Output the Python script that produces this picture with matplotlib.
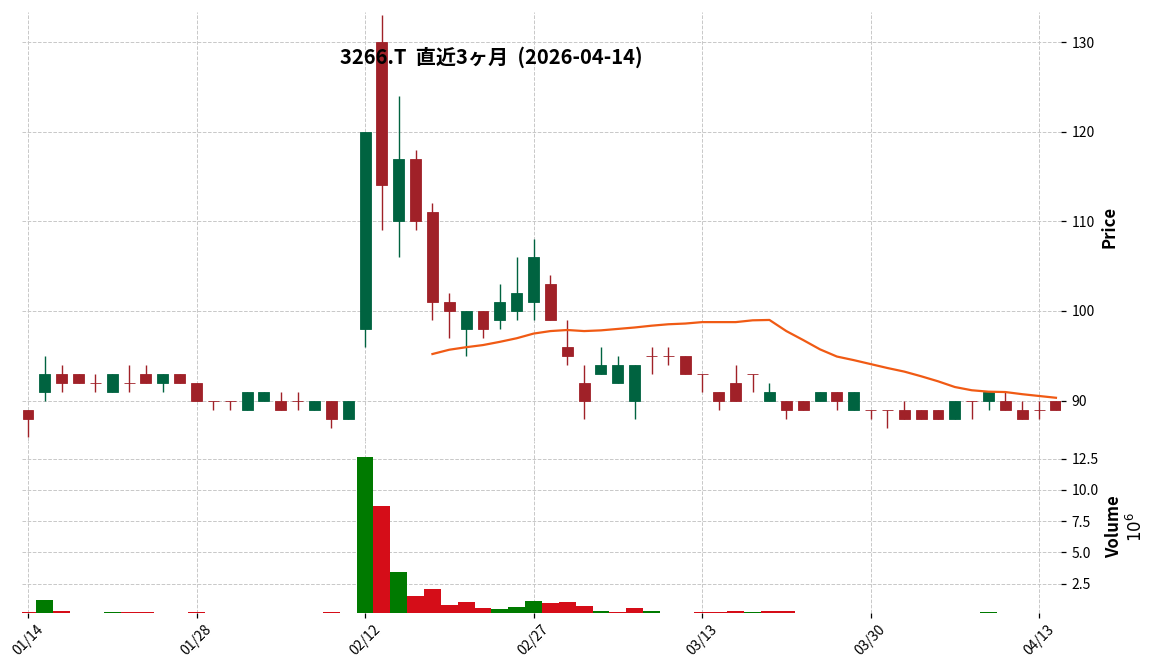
import matplotlib
matplotlib.use("Agg")
import matplotlib.pyplot as plt
import numpy as np
import pandas as pd

plt.rcParams["font.family"] = ["Noto Sans CJK JP", "DejaVu Sans"]

# trading days (TSE holidays removed)
dates = pd.bdate_range("2026-01-14", "2026-04-14", freq="C",
                       holidays=["2026-02-11", "2026-02-23", "2026-03-20"])

opens = [89, 91, 93, 93, 92, 91, 92, 93, 92, 93,
         92, 90, 90, 89, 90, 90, 90, 89, 90, 88,
         98, 130, 110, 117, 111, 101, 98, 100, 99, 100,
         101, 103, 96, 92, 93, 92, 90, 95, 95, 95,
         93, 91, 92, 93, 90, 90, 90, 90, 91, 89,
         89, 89, 89, 89, 89, 88, 90, 90, 90, 89,
         89, 90]
highs = [89, 95, 94, 93, 93, 93, 94, 94, 93, 93,
         92, 90, 90, 91, 91, 91, 91, 90, 90, 90,
         120, 133, 124, 118, 112, 102, 100, 100, 103, 106,
         108, 104, 99, 94, 96, 95, 94, 96, 96, 95,
         93, 91, 94, 93, 92, 90, 90, 91, 91, 91,
         89, 89, 90, 89, 89, 90, 90, 91, 91, 90,
         90, 90]
lows = [86, 90, 91, 92, 91, 91, 91, 92, 91, 92,
        90, 89, 89, 89, 90, 89, 89, 89, 87, 88,
        96, 109, 106, 109, 99, 97, 95, 97, 98, 99,
        99, 99, 94, 88, 93, 92, 88, 93, 94, 93,
        91, 89, 90, 91, 90, 88, 89, 90, 89, 89,
        88, 87, 88, 88, 88, 88, 88, 89, 89, 88,
        88, 89]
closes = [88, 93, 92, 92, 92, 93, 92, 92, 93, 92,
          90, 90, 90, 91, 91, 89, 90, 90, 88, 90,
          120, 114, 117, 110, 101, 100, 100, 98, 101, 102,
          106, 99, 95, 90, 94, 94, 94, 95, 95, 93,
          93, 90, 90, 93, 91, 89, 89, 91, 90, 91,
          89, 89, 88, 88, 88, 90, 90, 91, 89, 88,
          89, 89]
volumes = [200000, 1170000, 290000, 50000, 50000, 200000, 200000, 200000, 50000, 50000,
           200000, 50000, 50000, 50000, 50000, 50000, 50000, 50000, 200000, 50000,
           12610000, 8690000, 3410000, 1490000, 2050000, 770000, 1010000, 530000, 450000, 610000,
           1090000, 930000, 1010000, 690000, 290000, 210000, 530000, 290000, 50000, 50000,
           200000, 200000, 290000, 200000, 290000, 290000, 50000, 50000, 50000, 50000,
           50000, 50000, 50000, 50000, 50000, 50000, 50000, 200000, 50000, 50000,
           50000, 50000]

title = "3266.T  直近3ヶ月  (2026-04-14)"
mav = 25

UP, DOWN = "#006340", "#a02128"
VUP, VDOWN = "#007a00", "#d50d18"
GRID = "#c8c8c8"

o = np.array(opens, float)
h = np.array(highs, float)
l = np.array(lows, float)
c = np.array(closes, float)
v = np.array(volumes, float) / 1e6
x = np.arange(len(c))

ccol = [UP if cl > op else DOWN for op, cl in zip(o, c)]
prev = np.r_[o[0], c[:-1]]
vcol = [VUP if cl > pc else VDOWN for pc, cl in zip(prev, c)]
ma = pd.Series(c).rolling(mav).mean()

fig = plt.figure(figsize=(11.56, 6.70), dpi=100)
ax = fig.add_axes([0.01903, 0.3418, 0.8988, 0.6403])
axv = fig.add_axes([0.01903, 0.0851, 0.8988, 0.2567], sharex=ax)

ax.vlines(x, l, h, colors=ccol, linewidth=1.0)
ax.bar(x, np.abs(c - o), bottom=np.minimum(o, c), width=0.65,
       color=ccol, edgecolor=ccol, linewidth=0.6)
ax.plot(x, ma, color="#f05a14", linewidth=1.6)

axv.bar(x, v, width=1.0, color=vcol, linewidth=0)

for a in (ax, axv):
    a.grid(True, linestyle="--", color=GRID, linewidth=0.7)
    a.set_axisbelow(True)
    for s in a.spines.values():
        s.set_visible(False)
    a.yaxis.tick_right()
    a.tick_params(axis="y", labelsize=10, length=3.5, width=0.9, pad=4)

ax.set_xlim(-0.356, 61.3)
ax.set_ylim(85.5, 133.35)
ax.set_yticks([90, 100, 110, 120, 130])
ax.tick_params(axis="x", labelbottom=False, length=0)

axv.set_ylim(0.15, 13.9)
axv.set_yticks([2.5, 5.0, 7.5, 10.0, 12.5])
axv.set_yticklabels([f"{t:.1f}" for t in [2.5, 5.0, 7.5, 10.0, 12.5]])
ticks = x[::10]
axv.set_xticks(ticks)
axv.set_xticklabels([dates[i].strftime("%m/%d") for i in ticks],
                    rotation=45, ha="center", fontsize=10)
axv.tick_params(axis="x", length=3.5, width=0.9)

ax.set_ylabel("Price", fontsize=12, fontweight="bold")
ax.yaxis.set_label_position("right")
ax.yaxis.set_label_coords(1.047, 0.5)
ax.yaxis.label.set_va("center")

axv.set_ylabel("Volume\n$10^{6}$", fontsize=12, fontweight="bold")
axv.yaxis.set_label_position("right")
axv.yaxis.set_label_coords(1.062, 0.5)
axv.yaxis.label.set_va("center")

fig.text(0.4247, 0.914, title, fontsize=14.5, fontweight="bold",
         ha="center", va="center")

fig.savefig("out.png", dpi=100)
